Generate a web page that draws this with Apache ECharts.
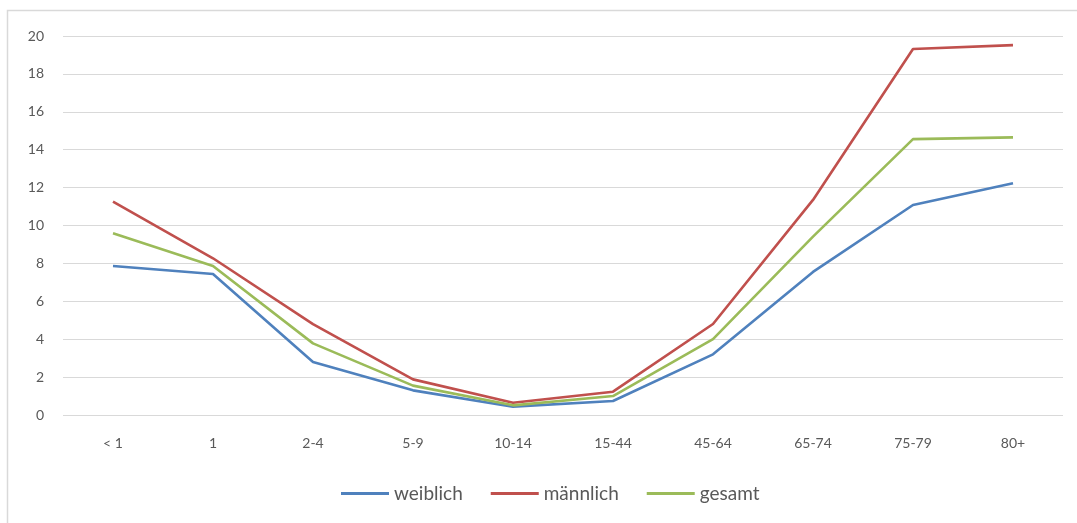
<!DOCTYPE html>
<html>
<head>
<meta charset="utf-8">
<script src="https://cdn.jsdelivr.net/npm/echarts@6/dist/echarts.min.js"></script>
<style>
  html, body { margin: 0; padding: 0; background: #fff; }
  #chart { width: 1077px; height: 523px; }
</style>
</head>
<body>
<div id="chart"></div>
<script>
// Age groups along the x axis
const ageGroups = ['< 1', '1', '2-4', '5-9', '10-14', '15-44', '45-64', '65-74', '75-79', '80+'];

// Values per age group
const weiblich = [7.86, 7.44, 2.8, 1.3, 0.44, 0.74, 3.2, 7.55, 11.08, 12.23];
const maennlich = [11.26, 8.27, 4.8, 1.88, 0.65, 1.23, 4.8, 11.35, 19.31, 19.52];
const gesamt = [9.59, 7.86, 3.78, 1.55, 0.51, 1.0, 4.0, 9.41, 14.56, 14.65];

const seriesNames = ['weiblich', 'männlich', 'gesamt'];
const seriesColors = ['#4F81BD', '#C0504D', '#9BBB59'];

const font = 'Lato, "Open Sans", sans-serif';

const chart = echarts.init(document.getElementById('chart'), null, { renderer: 'canvas' });

const makeLine = (name, data, color) => ({
  name: name,
  type: 'line',
  data: data,
  symbol: 'none',
  smooth: false,
  lineStyle: { color: color, width: 2.6 },
  itemStyle: { color: color }
});

chart.setOption({
  animation: false,
  backgroundColor: '#fff',
  graphic: [{
    type: 'polyline',
    shape: { points: [[7.5, 530], [7.5, 10.5], [1090, 10.5]] },
    style: { stroke: '#d9d9d9', lineWidth: 1.5, fill: null },
    silent: true
  }],
  grid: { left: 63, right: 14, top: 36, bottom: 108 },
  legend: {
    top: 479,
    left: 336,
    itemWidth: 48,
    itemHeight: 3,
    itemGap: 28,
    icon: 'rect',
    textStyle: { fontFamily: font, fontSize: 19, color: '#595959' },
    data: seriesNames
  },
  xAxis: {
    type: 'category',
    data: ageGroups,
    boundaryGap: true,
    axisLine: { show: false },
    axisTick: { show: false },
    axisLabel: { fontFamily: font, fontSize: 14, color: '#595959', margin: 21 }
  },
  yAxis: {
    type: 'value',
    min: 0,
    max: 20,
    interval: 2,
    axisLine: { show: false },
    axisTick: { show: false },
    splitLine: { lineStyle: { color: '#d9d9d9', width: 1 } },
    axisLabel: { fontFamily: font, fontSize: 14, color: '#595959', margin: 19 }
  },
  series: [
    makeLine(seriesNames[0], weiblich, seriesColors[0]),
    makeLine(seriesNames[1], maennlich, seriesColors[1]),
    makeLine(seriesNames[2], gesamt, seriesColors[2])
  ]
});
</script>
</body>
</html>
